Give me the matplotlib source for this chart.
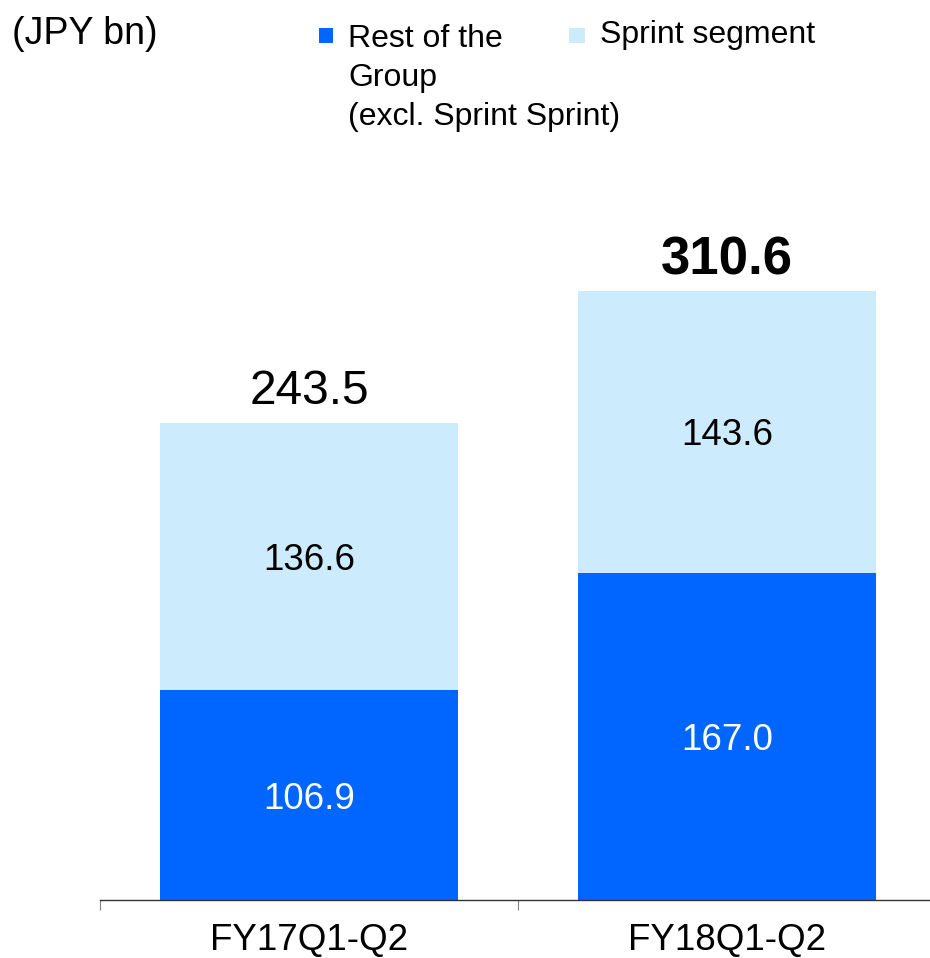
import matplotlib.pyplot as plt
from matplotlib.patches import Rectangle
import numpy as np

plt.rcParams['font.family'] = ['Liberation Sans', 'DejaVu Sans']

categories = ['FY17Q1-Q2', 'FY18Q1-Q2']
rest_of_group = [106.9, 167.0]
sprint_segment = [136.6, 143.6]
totals = [243.5, 310.6]
total_bold = [False, True]

blue = '#0066FF'
light = '#CCEBFC'

fig = plt.figure(figsize=(9.3, 9.58), dpi=100)
W, H = 930, 958
# axes: bottom at y=900px, top at y=200px, left at x=100px (right edge runs past the figure)
ax = fig.add_axes([100 / W, (H - 900) / H, 836 / W, 700 / H])

x = np.arange(len(categories))
bw = 0.715
ax.bar(x, rest_of_group, width=bw, color=blue, zorder=2)
ax.bar(x, sprint_segment, width=bw, bottom=rest_of_group, color=light, zorder=2)

for i in range(len(categories)):
    ax.text(x[i], rest_of_group[i] / 2, f'{rest_of_group[i]:.1f}', ha='center',
            va='center_baseline', color='white', fontsize=26.5)
    ax.text(x[i], rest_of_group[i] + sprint_segment[i] / 2, f'{sprint_segment[i]:.1f}',
            ha='center', va='center_baseline', color='black', fontsize=26.5)
    ax.text(x[i], totals[i] + 18.5, f'{totals[i]:.1f}', ha='center', va='center_baseline',
            color='black', fontsize=38 if total_bold[i] else 34.5,
            fontweight='bold' if total_bold[i] else 'normal')

ax.set_xlim(-0.5, 1.5)
ax.set_ylim(0, 700 / 1.96)
for s in ['top', 'right', 'left']:
    ax.spines[s].set_visible(False)
ax.spines['bottom'].set_color('#333333')
ax.spines['bottom'].set_linewidth(1.0)
ax.set_yticks([])
ax.set_xticks(x)
ax.set_xticklabels(categories, fontsize=26.5)
ax.tick_params(axis='x', which='major', length=0, pad=16.5)
ax.set_xticks([-0.5, 0.5, 1.5], minor=True)
ax.tick_params(axis='x', which='minor', length=7, width=0.8, color='#808080')

# unit label
fig.text(12 / W, 1 - 34 / H, '(JPY bn)', fontsize=27, ha='left', va='center')

# legend
fig.patches.append(Rectangle((319 / W, 1 - 43 / H), 14 / W, 15 / H, transform=fig.transFigure,
                             facecolor=blue, edgecolor='none'))
fig.text(348 / W, 1 - 24 / H, 'Rest of the\nGroup\n(excl. Sprint Sprint)', fontsize=23,
         ha='left', va='top', linespacing=1.39)
fig.patches.append(Rectangle((569 / W, 1 - 43 / H), 16 / W, 15 / H, transform=fig.transFigure,
                             facecolor=light, edgecolor='none'))
fig.text(600 / W, 1 - 20 / H, 'Sprint segment', fontsize=23, ha='left', va='top')

fig.savefig('out.png', dpi=100)
